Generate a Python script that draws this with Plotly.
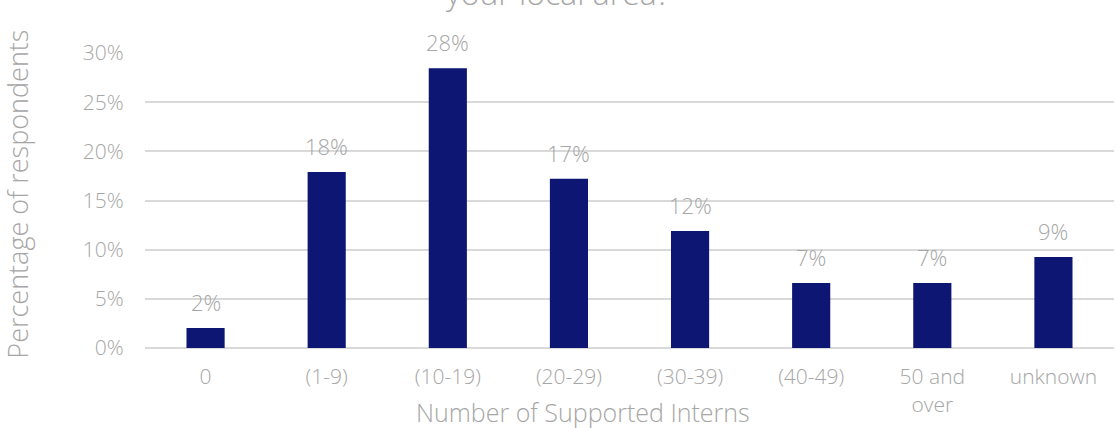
import plotly.graph_objects as go

# Survey results: share of respondents by number of supported interns
categories = ["0", "(1-9)", "(10-19)", "(20-29)", "(30-39)", "(40-49)", "50 and<br>over", "unknown"]
shares = [0.0203, 0.179, 0.2846, 0.172, 0.119, 0.066, 0.066, 0.0925]
y_ticks = [0, 0.05, 0.10, 0.15, 0.20, 0.25, 0.30]

FONT = "Open Sans"
WEIGHT = 300
TEXT_GREY = "#a6a6a6"
BAR_NAVY = "#0e1674"

fig = go.Figure()
fig.add_trace(go.Bar(
    x=categories,
    y=shares,
    marker=dict(color=BAR_NAVY, line=dict(width=0)),
    width=0.315,
    hoverinfo="skip",
))

# Value labels above each bar
for cat, val in zip(categories, shares):
    fig.add_annotation(
        x=cat, y=val, text=f"{val:.0%}", showarrow=False,
        yanchor="bottom", yshift=9,
        font=dict(family=FONT, size=22, color=TEXT_GREY, weight=WEIGHT),
    )

# Axis titles and the (partly clipped) chart title
fig.add_annotation(
    xref="paper", yref="paper", x=-0.131, y=0.52, text="Percentage of respondents",
    textangle=-90, showarrow=False, xanchor="center", yanchor="middle",
    font=dict(family=FONT, size=27, color=TEXT_GREY, weight=WEIGHT),
)
fig.add_annotation(
    xref="paper", yref="paper", x=0.452, y=-0.218, text="Number of Supported Interns",
    showarrow=False, xanchor="center", yanchor="middle",
    font=dict(family=FONT, size=25, color=TEXT_GREY, weight=WEIGHT),
)
fig.add_annotation(
    xref="paper", yref="paper", x=0.426, y=1.205, text="your local area?",
    showarrow=False, xanchor="center", yanchor="middle",
    font=dict(family=FONT, size=32, color=TEXT_GREY, weight=WEIGHT),
)

fig.update_layout(
    width=1116, height=428,
    margin=dict(l=145, r=2, t=53, b=80),
    paper_bgcolor="white", plot_bgcolor="white",
    showlegend=False,
    xaxis=dict(
        showgrid=False, showline=False, zeroline=False,
        ticks="outside", ticklen=10, tickcolor="rgba(0,0,0,0)",
        tickfont=dict(family=FONT, size=21, color=TEXT_GREY, weight=WEIGHT),
    ),
    yaxis=dict(
        range=[0, 0.30], tickvals=y_ticks, tickformat=".0%",
        showgrid=True, gridcolor="#d9d9d9", gridwidth=1.5,
        zeroline=True, zerolinecolor="#d9d9d9", zerolinewidth=1.5,
        showline=False,
        ticks="outside", ticklen=16, tickcolor="rgba(0,0,0,0)",
        tickfont=dict(family=FONT, size=21, color=TEXT_GREY, weight=WEIGHT),
    ),
)

fig.write_html("out.html")
